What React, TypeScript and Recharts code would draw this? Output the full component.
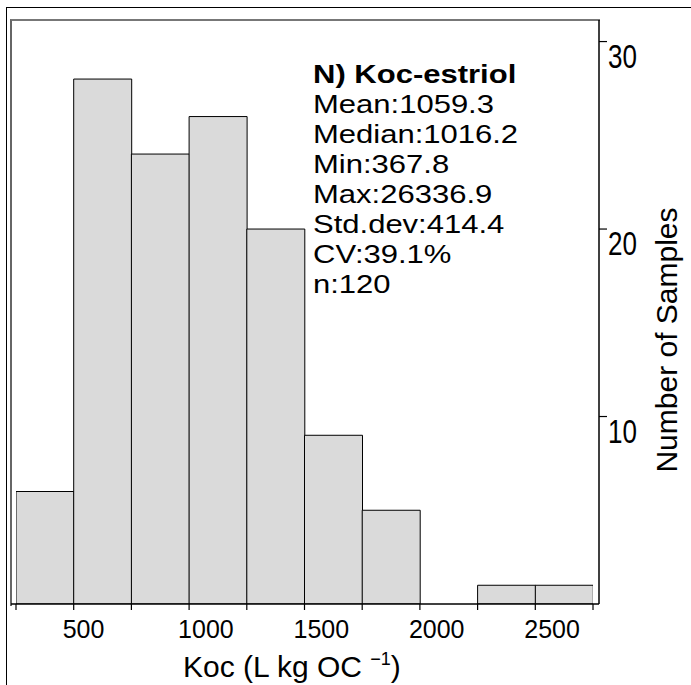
import React from "react";
import { BarChart, Bar, XAxis, YAxis } from "recharts";

// histogram bins (lower edge of each 250-wide bin) and sample counts
const binStarts = [250, 500, 750, 1000, 1250, 1500, 1750, 2000, 2250, 2500];
const counts = [6, 28, 24, 26, 20, 9, 5, 0, 1, 1];
const binWidth = 250;

// tick marks at every bin edge, labels only on the round ones
const edgeTicks = [250, 500, 750, 1000, 1250, 1500, 1750, 2000, 2250, 2500, 2750];
const labelledTicks = [500, 1000, 1500, 2000, 2500];
const countTicks = [10, 20, 30];
const countMax = 31.15;

const statsTitle = "N) Koc-estriol";
const statsLines = [
  "Mean:1059.3",
  "Median:1016.2",
  "Min:367.8",
  "Max:26336.9",
  "Std.dev:414.4",
  "CV:39.1%",
  "n:120",
];

const data = binStarts.map((start, i) => ({
  mid: start + binWidth / 2,
  count: counts[i],
}));

const FONT = "'Liberation Sans', Arial, sans-serif";

function XTick(props: any) {
  const { x, payload } = props;
  if (!labelledTicks.includes(payload.value)) return null;
  return (
    <text x={x - 11} y={638} textAnchor="start" fontSize={25} fontFamily={FONT} fill="#000">
      {payload.value}
    </text>
  );
}

// count labels are drawn tall and narrow, hanging below their tick
function YTick(props: any) {
  const { y, payload } = props;
  return (
    <text
      transform={`translate(608 ${y + 26}) scale(1 1.27)`}
      textAnchor="start"
      fontSize={26}
      fontFamily={FONT}
      fill="#000"
    >
      {payload.value}
    </text>
  );
}

function XTitle() {
  return (
    <text x={183} y={677} textAnchor="start" fontSize={30} fontFamily={FONT} fill="#000">
      Koc (L kg OC{" "}
      <tspan fontSize={18} dy={-12}>
        −1
      </tspan>
      <tspan dy={12}>)</tspan>
    </text>
  );
}

function YTitle() {
  const cx = 666;
  const cy = 340;
  return (
    <text
      x={cx}
      y={cy}
      transform={`rotate(-90 ${cx} ${cy})`}
      textAnchor="middle"
      dominantBaseline="central"
      fontSize={30}
      fontFamily={FONT}
      fill="#000"
    >
      Number of Samples
    </text>
  );
}

export default function App() {
  return (
    <div style={{ position: "relative", width: 691, height: 685, background: "#fff", fontFamily: FONT }}>
      <style>{`body{margin:0}`}</style>
      {/* outer frame */}
      <div
        style={{
          position: "absolute",
          left: 6,
          top: 7,
          right: 0,
          bottom: 0,
          borderTop: "1.5px solid #000",
          borderLeft: "1.5px solid #000",
        }}
      />
      {/* plot box top and left edges */}
      <div
        style={{
          position: "absolute",
          left: 10,
          top: 19,
          width: 588,
          height: 585,
          borderTop: "2px solid #777",
          borderLeft: "2px solid #666",
        }}
      />
      <div style={{ position: "absolute", left: 0, top: 0 }}>
        <BarChart
          width={691}
          height={685}
          data={data}
          margin={{ top: 20, right: 12, left: 11, bottom: 21 }}
          barCategoryGap={0}
        >
          <XAxis
            dataKey="mid"
            type="number"
            domain={[250, 2750]}
            ticks={edgeTicks}
            interval={0}
            allowDataOverflow
            padding={{ left: 5, right: 6 }}
            height={60}
            tickSize={6}
            tickLine={{ stroke: "#000", strokeWidth: 1.2 }}
            axisLine={{ stroke: "#000", strokeWidth: 1.5 }}
            tick={<XTick />}
            label={<XTitle />}
          />
          <YAxis
            orientation="right"
            domain={[0, countMax]}
            ticks={countTicks}
            allowDataOverflow
            width={80}
            tickSize={8}
            tickLine={{ stroke: "#000", strokeWidth: 1.2 }}
            axisLine={{ stroke: "#000", strokeWidth: 1.5 }}
            tick={<YTick />}
            label={<YTitle />}
          />
          <Bar dataKey="count" fill="#dadada" stroke="#000" strokeWidth={1} isAnimationActive={false} />
        </BarChart>
      </div>
      {/* summary statistics, set wide as in the original figure */}
      <div
        style={{
          position: "absolute",
          left: 313,
          top: 59,
          fontSize: 25,
          lineHeight: "30px",
          color: "#000",
          fontFamily: FONT,
          whiteSpace: "nowrap",
          transform: "scaleX(1.24)",
          transformOrigin: "left top",
        }}
      >
        <div style={{ fontWeight: "bold" }}>{statsTitle}</div>
        {statsLines.map((line) => (
          <div key={line}>{line}</div>
        ))}
      </div>
    </div>
  );
}
